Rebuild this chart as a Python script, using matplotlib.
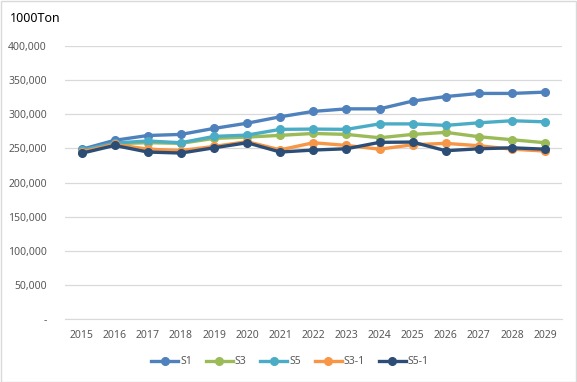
import numpy as np
import matplotlib.pyplot as plt
from matplotlib.ticker import FuncFormatter

plt.rcParams['font.family'] = ['Noto Sans', 'DejaVu Sans']

years = list(range(2015, 2030))
s1 = [248700, 262000, 269000, 270600, 279400, 287000, 296400, 304300, 308000, 308000, 319400, 326000, 330600, 330600, 332500]
s3 = [247000, 257000, 258500, 257500, 264800, 266700, 269200, 272000, 270600, 265700, 270600, 273600, 267200, 262800, 258400]
s5 = [247500, 258000, 261000, 258400, 267700, 269600, 278000, 278400, 278000, 286000, 286000, 283800, 287600, 290600, 289000]
s3_1 = [245000, 256000, 249000, 247000, 253000, 260000, 248000, 258400, 254500, 249000, 255500, 257500, 254000, 249000, 246200]
s5_1 = [243000, 254500, 244800, 243300, 251000, 258400, 244800, 247700, 249600, 259000, 259400, 246700, 249600, 251000, 249000]

names = ['S1', 'S3', 'S5', 'S3-1', 'S5-1']
series = [s1, s3, s5, s3_1, s5_1]
colors = ['#4F81BD', '#9BBB59', '#4BACC6', '#F79646', '#2C4D75']

fig = plt.figure(figsize=(5.77, 3.82), dpi=100)
ax = fig.add_axes([65/577, 1-319.3/382, (561.7-65)/577, (319.3-46)/382])

for name, vals, c in zip(names, series, colors):
    ax.plot(years, vals, color=c, lw=2.4, marker='o', ms=5.5, label=name)

ax.set_ylim(0, 400000)
ax.set_xlim(2014.5, 2029.5)
ax.set_yticks(np.arange(0, 400001, 50000))
ax.set_xticks(years)
ax.yaxis.set_major_formatter(FuncFormatter(lambda v, p: '-' if v == 0 else f'{int(v):,}'))
ax.grid(axis='y', color='#D9D9D9', lw=0.9)
ax.set_axisbelow(True)
for s in ['top', 'right', 'left']:
    ax.spines[s].set_visible(False)
ax.spines['bottom'].set_color('#D9D9D9')
ax.tick_params(length=0, labelsize=7.5, colors='#595959')
ax.tick_params(axis='y', pad=13)
ax.tick_params(axis='x', pad=8)

fig.text(10/577, 1-19/382, '1000Ton', fontsize=9, va='center', color='black')

fig.legend(loc='center', bbox_to_anchor=(290/577, 1-362/382), ncol=5, frameon=False,
           fontsize=7.5, handlelength=2.6, columnspacing=1.3, handletextpad=0.2,
           labelcolor='#595959')

fig.patches.append(plt.Rectangle((0.5/577, 0.5/382), 575.5/577, 380.5/382, transform=fig.transFigure,
                                 fill=False, edgecolor='#D9D9D9', lw=1))

fig.savefig('out.png', dpi=100)
